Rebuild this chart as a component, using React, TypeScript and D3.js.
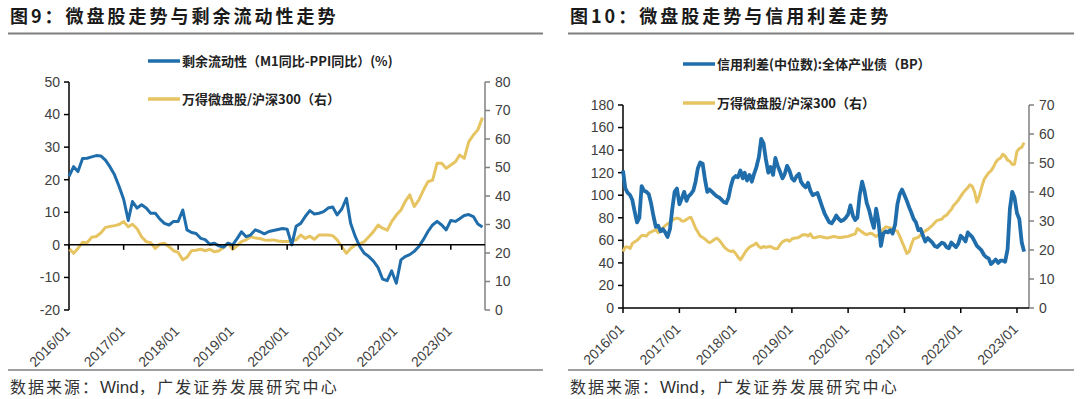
import React from "react";
import * as d3 from "d3";

// 图9: monthly, 2016/01 - 2023/08
const liquidity = [
  21, 24, 22.5, 26.5, 26.6, 27, 27.4, 27.3, 26, 24, 21.5, 18,
  14, 7.5, 13.3, 11.3, 12.3, 11.3, 9.7, 9.7, 7.9, 6.6, 6.1, 7.2,
  7.2, 10.7, 4.6, 3.8, 3.5, 2, 1.6, 0.2, 0.5, -0.3, -0.7, 0.5,
  0, 2, 4, 2.5, 3, 4.6, 4.1, 3.4, 4.1, 4.4, 4.7, 5,
  4.8, 0, 5.7, 6.6, 8.7, 10.5, 9.5, 9.7, 10.2, 11.3, 11.6, 9.2,
  11, 14.3, 6.6, 2.6, -0.5, -2.6, -3.6, -5, -7, -10.5, -11, -8,
  -11.8, -4.6, -3.6, -3, -2, -0.5, 1.6, 4.1, 6.1, 7.2, 6.1, 4.6,
  7.5, 7.2, 8, 9, 9.3, 8.7, 6.4, 5.5,
];
const smallCapLeft = [
  21.6, 19.9, 21.6, 23.8, 23.6, 25.5, 25.8, 27, 29, 29.3, 29.6, 30,
  31, 29.2, 30.1, 28.5, 25.7, 24, 23.6, 21.6, 23.2, 23.4, 22.2, 20.8,
  20.2, 17.6, 18.5, 20.8, 21, 21.3, 20.8, 21.3, 20.4, 20.8, 21.9, 23.5,
  21.3, 22.6, 24, 24.6, 25.7, 25.3, 25.1, 24.6, 24.5, 24.6, 24.2, 24,
  24, 24.2, 24.6, 26.3, 25.1, 25.9, 24.8, 26.3, 26.3, 26.3, 26.1, 24.6,
  22.2, 19.9, 21.6, 22.8, 23.2, 24, 25.7, 27.5, 29.8, 28.7, 28, 31,
  33.3, 35.1, 38, 40.4, 36.3, 38.6, 42, 45, 45.6, 51.5, 51.5, 49.7,
  50.9, 52, 54.4, 53.2, 59, 61.4, 63.2, 67.5,
];
const leftMonths = liquidity.map((_, i) => new Date(2016, i, 1));

// 图10: half-monthly, 2016/01 - 2023/02
const creditSpread = [
  122, 106, 102, 100, 96, 86, 76, 80, 108, 104, 103, 101,
  93, 82, 72, 73, 68, 70, 67, 63, 70, 88, 103, 106,
  92, 97, 103, 95, 99, 101, 104, 112, 124, 129, 128, 114,
  103, 105, 103, 101, 99, 98, 96, 94, 93, 98, 108, 115,
  117, 116, 122, 115, 120, 113, 118, 112, 119, 125, 134, 150,
  146, 132, 120, 125, 118, 133, 126, 121, 115, 119, 126, 122,
  115, 113, 117, 119, 112, 109, 107, 111, 104, 100, 101, 102,
  96, 90, 84, 80, 76, 75, 78, 82, 79, 77, 78, 80,
  83, 91, 82, 78, 80, 100, 112, 104, 93, 87, 78, 71,
  88, 77, 55, 66, 68, 67, 69, 66, 74, 92, 101, 105,
  100, 95, 89, 84, 79, 76, 69, 70, 64, 59, 62, 60,
  58, 55, 54, 56, 58, 57, 54, 53, 58, 56, 54, 57,
  64, 62, 59, 67, 65, 63, 59, 55, 53, 51, 47, 45,
  44, 39, 41, 43, 40, 42, 42, 41, 52, 88, 103, 98,
  84, 79, 58, 50,
];
const smallCapRight = [
  19.5, 21, 21, 20.5, 22.2, 22.8, 23.3, 24.1, 25, 25, 24.8, 25.8,
  26.2, 26.6, 27, 26, 26.5, 27.6, 28.4, 29, 29.6, 30.3, 30.8, 31,
  30.8, 30, 30, 30.5, 31, 31.3, 29.5, 27.5, 26.2, 24.8, 24.3, 23.8,
  23, 22.5, 23, 23.6, 24.1, 23.4, 22.4, 21.2, 20.4, 19.8, 19.5, 19.7,
  18.8, 17.6, 16.6, 17.8, 19, 20.1, 21, 21.4, 21.8, 22.4, 21.2, 20.7,
  21.2, 20.9, 21.1, 21.2, 20.7, 20.4, 20.5, 21.8, 22.8, 23.3, 23.5, 23,
  23.8, 24.1, 24.1, 24.4, 24.9, 25.3, 25.3, 24.8, 25.6, 24.3, 24.2, 24.5,
  24.7, 24.5, 24.3, 24.1, 24.3, 24.5, 24.7, 24.5, 24.3, 24.3, 24.5, 24.6,
  24.7, 25, 25.3, 25.5, 27.4, 26.8, 26.2, 25.6, 25.3, 25.6, 25.8, 25.2,
  24.7, 25.1, 26, 27.2, 28, 27.8, 27.6, 27.2, 26.8, 26.4, 24.8, 22.8,
  20.8, 18.8, 19.5, 22, 23.8, 24.1, 24.4, 25.3, 26, 26.6, 27.1, 27.8,
  28.5, 29.4, 30.2, 30.4, 30.7, 31.6, 32, 33, 34, 35.4, 36.2, 37.2,
  38.5, 39.7, 40.7, 41.5, 42.5, 42, 40, 36.5, 38.5, 41.5, 44.2, 45.5,
  46.6, 47.3, 48.6, 50.2, 51.3, 51.7, 53, 52.4, 51, 50.6, 49.5, 49.6,
  54, 55, 55.4, 57,
];
const rightDates = creditSpread.map(
  (_, i) => new Date(2016, Math.floor(i / 2), i % 2 ? 16 : 1)
);

const yearTicks = d3.range(2016, 2024).map((y) => new Date(y, 0, 1));
const fmt = d3.timeFormat("%Y/%m");

const BLUE = "#1f6dab";
const GOLD = "#e6c462";
const NUM_FONT = "'Liberation Sans', Arial, sans-serif";
const CJK_FONT = "'Noto Sans CJK SC', sans-serif";

type Pt = { d: Date; v: number };

const Chart = ({
  x0,
  title,
  x,
  yLeft,
  yRight,
  leftTicks,
  rightTicks,
  baseY,
  bottomY,
  blue,
  gold,
  blueName,
  goldName,
  legendX,
  legendY,
  blueWidth,
}: any) => {
  const lineL = d3
    .line<Pt>()
    .x((p) => x(p.d))
    .y((p) => yLeft(p.v));
  const lineR = d3
    .line<Pt>()
    .x((p) => x(p.d))
    .y((p) => yRight(p.v));
  const [xa, xb] = x.range();
  const ruleEnd = x0 < 100 ? 543 : 1074;
  return (
    <g>
      <text
        x={x0 + 2}
        y={17}
        dy="0.35em"
        fontFamily={CJK_FONT}
        fontWeight="bold"
        fontSize={18}
        letterSpacing={3}
        fill="#1a1a1a"
      >
        {title}
      </text>
      <line x1={x0} x2={ruleEnd} y1={33.5} y2={33.5} stroke="#7f7f7f" strokeWidth={2} />

      {/* legend */}
      {[
        [blueName, BLUE, legendY[0]],
        [goldName, GOLD, legendY[1]],
      ].map(([name, c, ly]: any) => (
        <g key={name}>
          <line x1={legendX} x2={legendX + 32} y1={ly} y2={ly} stroke={c} strokeWidth={3.5} />
          <text
            x={legendX + 34}
            y={ly}
            dy="0.35em"
            fontFamily={CJK_FONT}
            fontWeight="bold"
            fontSize={13}
            fill="#222"
          >
            {name}
          </text>
        </g>
      ))}

      {/* left axis */}
      <line x1={xa} x2={xa} y1={yLeft.range()[1]} y2={yLeft.range()[0]} stroke="#000" strokeWidth={1.5} />
      {leftTicks.map((t: number) => (
        <g key={"l" + t}>
          <line x1={xa - 5} x2={xa} y1={yLeft(t)} y2={yLeft(t)} stroke="#000" strokeWidth={1.5} />
          <text
            x={xa - 9}
            y={yLeft(t)}
            dy="0.35em"
            textAnchor="end"
            fontFamily={NUM_FONT}
            fontSize={14}
            fill="#404040"
          >
            {t}
          </text>
        </g>
      ))}

      {/* right axis */}
      <line x1={xb} x2={xb} y1={yRight.range()[1]} y2={yRight.range()[0]} stroke="#808080" strokeWidth={1.5} />
      {rightTicks.map((t: number) => (
        <g key={"r" + t}>
          <line x1={xb} x2={xb + 5} y1={yRight(t)} y2={yRight(t)} stroke="#808080" strokeWidth={1.5} />
          <text
            x={xb + 10}
            y={yRight(t)}
            dy="0.35em"
            fontFamily={NUM_FONT}
            fontSize={14}
            fill="#404040"
          >
            {t}
          </text>
        </g>
      ))}

      {/* series */}
      <path d={lineR(gold) || ""} fill="none" stroke={GOLD} strokeWidth={3} strokeLinejoin="round" />
      <path d={lineL(blue) || ""} fill="none" stroke={BLUE} strokeWidth={blueWidth} strokeLinejoin="round" />

      {/* category axis */}
      <line x1={xa} x2={xb} y1={baseY} y2={baseY} stroke="#000" strokeWidth={1.5} />
      {yearTicks.map((d) => (
        <g key={+d}>
          <line x1={x(d)} x2={x(d)} y1={baseY} y2={baseY + 5} stroke="#000" strokeWidth={1.5} />
          <text
            transform={`translate(${x(d) + 2},${bottomY + 22}) rotate(-45)`}
            textAnchor="end"
            fontFamily={NUM_FONT}
            fontSize={14}
            fill="#404040"
          >
            {fmt(d)}
          </text>
        </g>
      ))}

      <line x1={x0} x2={ruleEnd} y1={370} y2={370} stroke="#7f7f7f" strokeWidth={1.5} />
      <text x={x0 + 2} y={387} dy="0.35em" fontFamily={CJK_FONT} fontSize={16} fill="#333">
        <tspan letterSpacing={2}>数据来源：</tspan>
        <tspan fontFamily={NUM_FONT} fontSize={17}>Wind</tspan>
        <tspan letterSpacing={2.2}>，广发证券发展研究中心</tspan>
      </text>
    </g>
  );
};

export default function App() {
  const xL = d3
    .scaleTime()
    .domain([new Date(2016, 0, 1), new Date(2023, 7, 18)])
    .range([69, 485]);
  const yL = d3.scaleLinear().domain([-20, 50]).range([310, 82]);
  const yL2 = d3.scaleLinear().domain([0, 80]).range([310, 82]);

  const xR = d3
    .scaleTime()
    .domain([new Date(2016, 0, 1), new Date(2023, 2, 20)])
    .range([623, 1029]);
  const yR = d3.scaleLinear().domain([0, 180]).range([308, 105]);
  const yR2 = d3.scaleLinear().domain([0, 70]).range([308, 105]);

  const leftBlue = leftMonths.map((d, i) => ({ d, v: liquidity[i] }));
  const leftGold = leftMonths.map((d, i) => ({ d, v: smallCapLeft[i] }));
  const rightBlue = rightDates.map((d, i) => ({ d, v: creditSpread[i] }));
  const rightGold = rightDates.map((d, i) => ({ d, v: smallCapRight[i] }));

  return (
    <div style={{ position: "fixed", left: 0, top: 0 }}>
      <svg width={1080} height={399} style={{ display: "block", background: "#fff" }}>
        <Chart
          x0={8}
          title="图9：微盘股走势与剩余流动性走势"
          x={xL}
          yLeft={yL}
          yRight={yL2}
          leftTicks={d3.range(-20, 51, 10)}
          rightTicks={d3.range(0, 81, 10)}
          baseY={yL(0)}
          bottomY={310}
          blue={leftBlue}
          gold={leftGold}
          blueName="剩余流动性（M1同比-PPI同比）(%)"
          goldName="万得微盘股/沪深300（右）"
          legendX={148}
          legendY={[61, 99]}
          blueWidth={3}
        />
        <Chart
          x0={568}
          title="图10：微盘股走势与信用利差走势"
          x={xR}
          yLeft={yR}
          yRight={yR2}
          leftTicks={d3.range(0, 181, 20)}
          rightTicks={d3.range(0, 71, 10)}
          baseY={308}
          bottomY={308}
          blue={rightBlue}
          gold={rightGold}
          blueName="信用利差(中位数):全体产业债（BP）"
          goldName="万得微盘股/沪深300（右）"
          legendX={683}
          legendY={[64, 103]}
          blueWidth={3.8}
        />
      </svg>
    </div>
  );
}
